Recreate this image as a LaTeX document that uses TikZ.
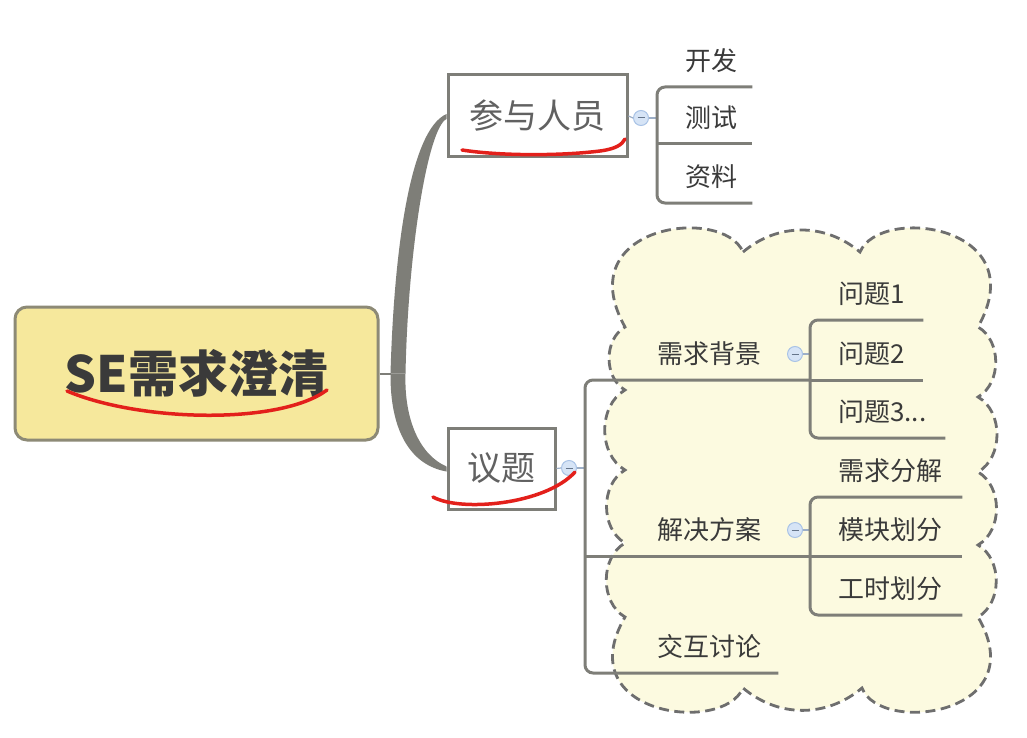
\documentclass[tikz,border=0pt]{standalone}
\usepackage{fontspec}
\usepackage{xcolor}
\usepackage{tikz}
\usetikzlibrary{calc}
\newfontfamily\cjk{Noto Sans CJK SC}
\definecolor{smRoot}{HTML}{F6E89C}
\definecolor{smRootLine}{HTML}{8D8A76}
\definecolor{smGray}{HTML}{7E7E78}
\definecolor{smText}{HTML}{3A3A3A}
\definecolor{smCloud}{HTML}{FCFAE0}
\definecolor{smCloudLine}{HTML}{6E6E6E}
\definecolor{smFold}{HTML}{D6E4F6}
\definecolor{smFoldLine}{HTML}{A9C3E6}
\definecolor{smRed}{HTML}{E3201B}

\begin{document}
\begin{tikzpicture}[x=1pt, y=1pt, font=\cjk, text=smText,
  box/.style={draw=smGray, line width=3pt, fill=white, inner sep=0, text=smText!80, font=\cjk\fontsize{34}{34}\selectfont},
  leaf/.style={anchor=south west, inner sep=0, minimum height=52pt, text width=#1, align=left, font=\cjk\fontsize{26}{26}\selectfont, execute at begin node={\hspace*{28pt}}},
  subtopic/.style={leaf=#1, execute at begin node={\hspace*{-14pt}}},
  branch/.style={draw=smGray, line width=3pt, rounded corners=8pt},
  link/.style={draw=smFoldLine!70!gray, line width=1.2pt},
  fold/.style={circle, draw=smFoldLine, fill=smFold, line width=1pt, minimum size=15pt, inner sep=0,
    path picture={\draw[smFoldLine!60!black, line width=1pt] ([xshift=-3.5pt]path picture bounding box.center) -- ([xshift=3.5pt]path picture bounding box.center);}},
  cloudline/.style={draw=smCloudLine, fill=smCloud, line width=2.8pt, dash pattern=on 10pt off 5.5pt},
  scribble/.style={draw=smRed, line width=3.5pt, line cap=round}]
  \useasboundingbox[fill=white] (0,0) rectangle (1027,-738);

  % cloud round the topic children
  \path[cloudline] (743,-252) to[out=40,in=140] (860,-252)
    .. controls (880,-205) and (1035,-225) .. (978,-327)
    to[out=-30,in=30] (978,-397) to[out=-30,in=30] (978,-472)
    to[out=-30,in=30] (978,-545) to[out=-30,in=30] (978,-617)
    .. controls (1035,-715) and (880,-735) .. (862,-688)
    to[out=-140,in=-40] (743,-688)
    .. controls (723,-735) and (568,-715) .. (625,-617)
    to[out=150,in=-150] (625,-543) to[out=150,in=-150] (625,-470)
    to[out=150,in=-150] (625,-390) to[out=150,in=-150] (625,-327)
    .. controls (568,-225) and (723,-205) .. (743,-252) -- cycle;

  \node[draw=smRootLine, fill=smRoot, line width=3pt, rounded corners=12pt, minimum width=363pt, minimum height=133pt, font=\cjk\bfseries\fontsize{50}{50}\selectfont] (root) at (196.5,-373.5) {SE需求澄清};
  \node[box, minimum width=179pt, minimum height=82pt] (people) at (537.5,-116) {参与人员};
  \node[box, minimum width=107pt, minimum height=81pt] (topic) at (501.5,-468.5) {议题};

  % tapered trunk
  \coordinate (fork) at ($(root.east)+(11,0)$);
  \draw[smGray, line width=2pt] (root.east) -- (fork);
  \fill[smGray] (fork) .. controls (394,-250) and (410,-130) .. ($(people.west)+(0,2)$)
    -- ($(people.west)+(0,-3)$) .. controls (428,-128) and (408,-250) .. ($(fork)+(15,0)$) -- cycle;
  \fill[smGray] (fork) .. controls (390,-430) and (410,-465) .. ($(topic.west)+(0,-3)$)
    -- ($(topic.west)+(0,2)$) .. controls (420,-455) and (404,-420) .. ($(fork)+(15,0)$) -- cycle;

  % people
  \node[fold] (pind) at (641,-118) {};
  \node[leaf=95pt] (dev) at (657,-87) {开发};
  \node[leaf=95pt] (test) at (657,-144) {测试};
  \node[leaf=95pt] (docs) at (657,-203) {资料};
  \draw[link] (people.east) -- (pind.west);
  \draw[link] (pind.east) -- (pind.east -| dev.south west);
  \draw[branch] (dev.south east) -- (dev.south west) -- (docs.south west) -- (docs.south east);
  \draw[branch] (test.south west) -- (test.south east);

  % topic
  \node[fold] (tind) at (569,-468) {};
  \node[subtopic=167pt] (bg) at (643,-380) {需求背景};
  \node[subtopic=167pt] (plan) at (643,-556) {解决方案};
  \node[subtopic=135pt] (talk) at (643,-673) {交互讨论};
  \coordinate (tj) at ([xshift=-58pt]talk.south west);
  \draw[link] (topic.east) -- (tind.west);
  \draw[link] (tind.east) -- (tind.east -| tj);
  \draw[branch] (bg.south east) -- (bg.south west) -| (tj) -- (talk.south east);
  \draw[branch] (plan.south east) -- (plan.south west) -- (plan.south west -| tj);

  \node[fold] (bind) at (795,-354) {};
  \node[leaf=113pt] (q1) at (810,-320) {问题1};
  \node[leaf=113pt] (q2) at (810,-380) {问题2};
  \node[leaf=135pt] (q3) at (810,-438) {问题3...};
  \draw[link] (bind.east) -- (bind.east -| q1.south west);
  \draw[branch] (q1.south east) -- (q1.south west) -- (q3.south west) -- (q3.south east);
  \draw[branch] (q2.south west) -- (q2.south east);

  \node[fold] (sind) at (795,-530) {};
  \node[leaf=152pt] (split) at (810,-497) {需求分解};
  \node[leaf=152pt] (module) at (810,-556) {模块划分};
  \node[leaf=152pt] (hours) at (810,-615) {工时划分};
  \draw[link] (sind.east) -- (sind.east -| split.south west);
  \draw[branch] (split.south east) -- (split.south west) -- (hours.south west) -- (hours.south east);
  \draw[branch] (module.south west) -- (module.south east);

  % red marks
  \draw[scribble] (67,-391) .. controls (140,-422) and (280,-425) .. (327,-390);
  \draw[scribble] (462,-150) .. controls (500,-156) and (560,-156) .. (600,-151) .. controls (615,-149) and (622,-145) .. (625,-139);
  \draw[scribble] (433,-497) .. controls (460,-512) and (545,-505) .. (575,-472);
\end{tikzpicture}
\end{document}
